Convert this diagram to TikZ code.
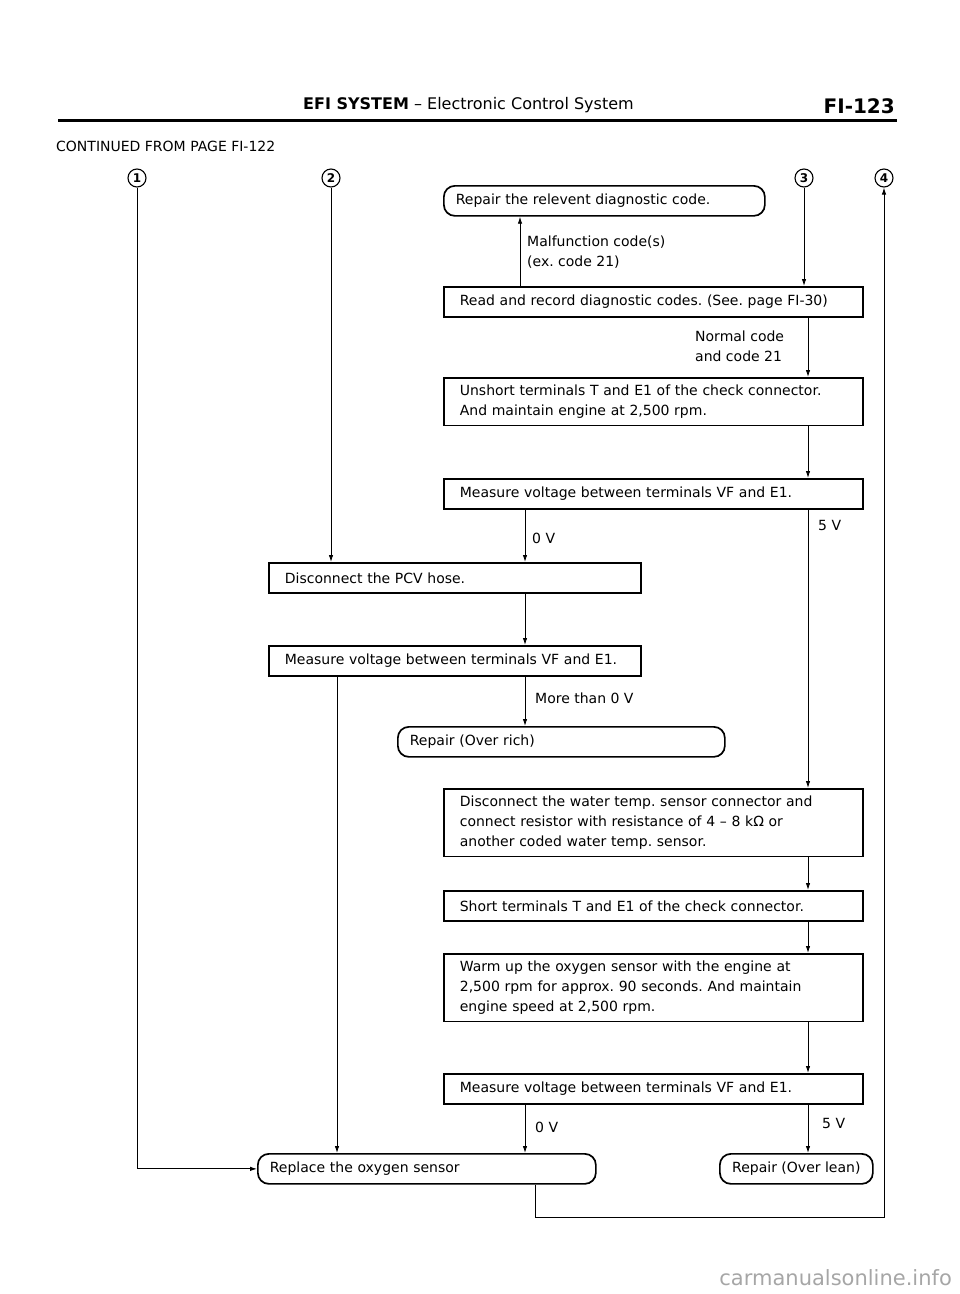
\documentclass[tikz,border=0pt]{standalone}
\usepackage{fontspec}
\setmainfont{DejaVu Sans}
\usetikzlibrary{arrows.meta}
\frenchspacing

\begin{document}
\begin{tikzpicture}[x=1pt, y=-1pt,
        txt/.style={font=\fontsize{14}{20}\selectfont},
        stepbox/.style={txt, draw, rectangle, line width=1.7pt, anchor=north west, align=left, inner xsep=16pt, inner ysep=7pt, minimum height=30pt},
        endbox/.style={stepbox, rounded corners=11pt, inner xsep=12pt},
        numcirc/.style={draw, circle, line width=1.1pt, minimum size=18pt, inner sep=0pt, font=\fontsize{12}{12}\selectfont\bfseries},
        lbl/.style={txt, anchor=west, align=left, inner sep=0pt},
        flow/.style={line width=0.9pt, -{Latex[length=7pt, width=4.5pt]}}]
    \useasboundingbox (0,0) rectangle (960,1294);

    % page head
    \node[anchor=west, inner sep=0pt, font=\fontsize{16}{18}\selectfont] (title) at (303,105) {\textbf{EFI SYSTEM} – Electronic Control System};
    \node[anchor=east, inner sep=0pt, font=\fontsize{20}{20}\selectfont\bfseries] (page) at (895,106) {FI-123};
    \draw[line width=3pt] (58,120) -- (897,120);
    \node[lbl] (cont) at (56,146) {CONTINUED FROM PAGE FI-122};

    \node[numcirc] (c1) at (137,178) {1};
    \node[numcirc] (c2) at (331,178) {2};
    \node[numcirc] (c3) at (804,178) {3};
    \node[numcirc] (c4) at (884,178) {4};

    \node[endbox, text width=297pt] (diag) at (443,185) {Repair the relevent diagnostic code.};
    \node[stepbox, text width=387pt] (read) at (443,286) {Read and record diagnostic codes. (See. page FI-30)};
    \node[stepbox, text width=387pt] (unshort) at (443,377) {Unshort terminals T and E1 of the check connector.\\And maintain engine at 2,500 rpm.};
    \node[stepbox, text width=387pt] (meas1) at (443,478) {Measure voltage between terminals VF and E1.};

    \node[stepbox, text width=340pt] (pcv) at (268,562) {Disconnect the PCV hose.};
    \node[stepbox, text width=340pt] (meas2) at (268,645) {Measure voltage between terminals VF and E1.};
    \node[endbox, text width=303pt] (rich) at (397,726) {Repair (Over rich)};

    \node[stepbox, text width=387pt] (water) at (443,788) {Disconnect the water temp. sensor connector and\\connect resistor with resistance of 4 – 8 kΩ or\\another coded water temp. sensor.};
    \node[stepbox, text width=387pt] (short) at (443,890) {Short terminals T and E1 of the check connector.};
    \node[stepbox, text width=387pt] (warm) at (443,953) {Warm up the oxygen sensor with the engine at\\2,500 rpm for approx. 90 seconds. And maintain\\engine speed at 2,500 rpm.};
    \node[stepbox, text width=387pt] (meas3) at (443,1073) {Measure voltage between terminals VF and E1.};

    \node[endbox, text width=314pt] (replace) at (257,1153) {Replace the oxygen sensor};
    \node[endbox, align=center, inner xsep=10pt, minimum width=153pt] (lean) at (719,1153) {Repair (Over lean)};

    \node[lbl] (lblmal) at (527,252) {Malfunction code(s)\\(ex. code 21)};
    \node[lbl] (lblnorm) at (695,346) {Normal code\\and code 21};
    \node[lbl] (lblzero) at (532,538) {0 V};
    \node[lbl] (lblfive) at (818,525) {5 V};
    \node[lbl] (lblmore) at (535,698) {More than 0 V};
    \node[lbl] (lblzerob) at (535,1127) {0 V};
    \node[lbl] (lblfiveb) at (822,1123) {5 V};

    \coordinate (colm) at (520,0);
    \coordinate (colv) at (525,0);
    \coordinate (colr) at (808,0);
    \coordinate (colq) at (337,0);
    \coordinate (colb) at (535,0);
    \coordinate (lowturn) at (884,1217);

    \draw[flow] (read.north -| colm) -- (diag.south -| colm);
    \draw[flow] (c3.south) -- (c3 |- read.north);
    \draw[flow] (read.south -| colr) -- (unshort.north -| colr);
    \draw[flow] (unshort.south -| colr) -- (meas1.north -| colr);
    \draw[flow] (meas1.south -| colv) -- (pcv.north -| colv);
    \draw[flow] (meas1.south -| colr) -- (water.north -| colr);
    \draw[flow] (c2.south) -- (c2 |- pcv.north);
    \draw[flow] (pcv.south -| colv) -- (meas2.north -| colv);
    \draw[flow] (meas2.south -| colv) -- (rich.north -| colv);
    \draw[flow] (meas2.south -| colq) -- (replace.north -| colq);
    \draw[flow] (water.south -| colr) -- (short.north -| colr);
    \draw[flow] (short.south -| colr) -- (warm.north -| colr);
    \draw[flow] (warm.south -| colr) -- (meas3.north -| colr);
    \draw[flow] (meas3.south -| colv) -- (replace.north -| colv);
    \draw[flow] (meas3.south -| colr) -- (lean.north -| colr);
    \draw[flow] (c1.south) |- (replace.west);
    \draw[flow] (replace.south -| colb) |- (lowturn) -- (c4.south);

    \node[anchor=east, inner sep=0pt, text=gray!70, font=\fontsize{21}{21}\selectfont] (mark) at (952,1278) {carmanualsonline.info};
\end{tikzpicture}
\end{document}
